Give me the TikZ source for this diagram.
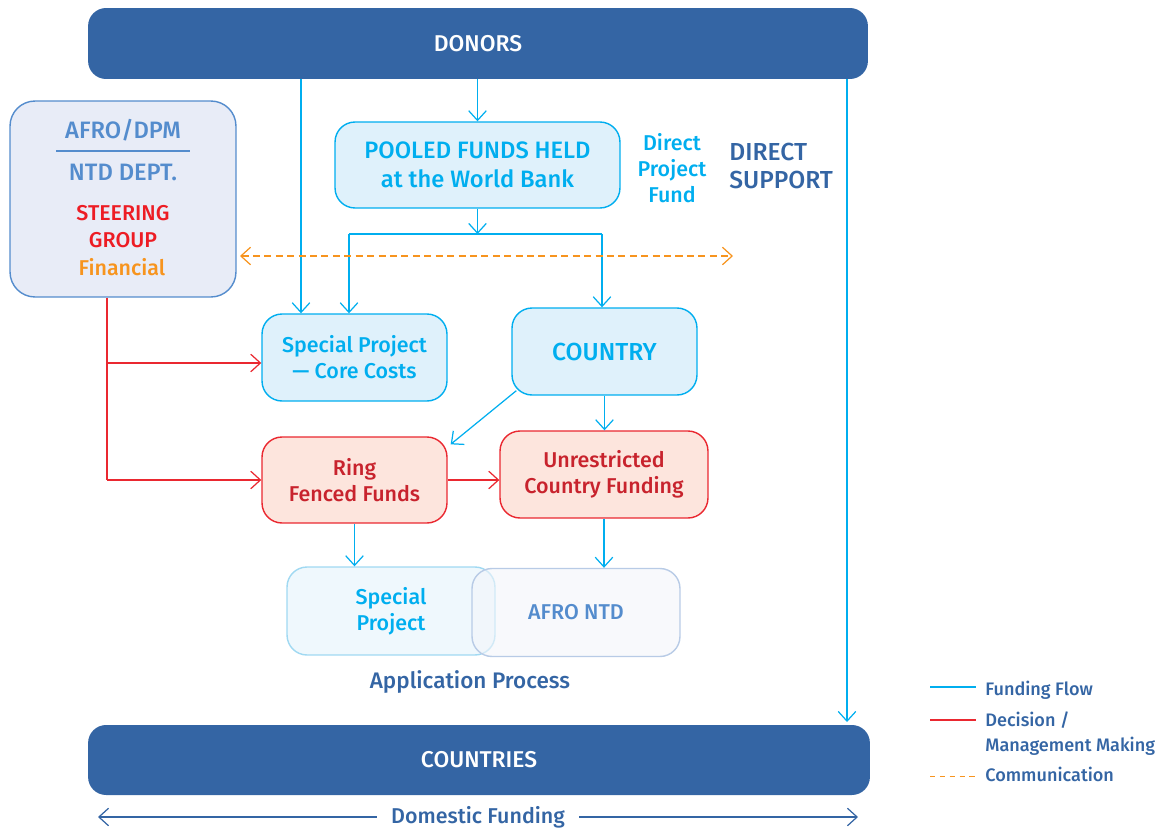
\documentclass[tikz,border=0pt]{standalone}
\usepackage{fontspec}
\setmainfont{Fira Sans}[UprightFont=* Medium]
\usetikzlibrary{arrows.meta}

\definecolor{barblue}{RGB}{52,101,164}
\definecolor{midblue}{RGB}{84,140,205}
\definecolor{flowcyan}{RGB}{0,174,239}
\definecolor{lightcyan}{RGB}{223,241,251}
\definecolor{lavender}{RGB}{232,236,247}
\definecolor{decred}{RGB}{234,40,48}
\definecolor{steerred}{RGB}{237,28,36}
\definecolor{darkred}{RGB}{200,35,45}
\definecolor{salmon}{RGB}{253,229,221}
\definecolor{commorange}{RGB}{247,148,30}
\definecolor{paleblue}{RGB}{239,248,253}
\definecolor{palecyan}{RGB}{160,217,242}
\definecolor{palegrey}{RGB}{243,245,250}
\definecolor{greyblue}{RGB}{184,203,230}

\tikzset{
  txt/.style={inner sep=0pt},
  bigfont/.style={font=\fontsize{13.5}{16.6}\selectfont},
  midfont/.style={font=\fontsize{12.2}{14.8}\selectfont},
  smallfont/.style={font=\fontsize{10.3}{14.2}\selectfont},
  bar/.style={fill=barblue, rounded corners=0.36cm, inner sep=0pt, text=white, font=\fontsize{13}{15}\selectfont},
  flowbox/.style={draw=flowcyan, fill=lightcyan, line width=0.8pt, rounded corners=0.4cm, inner sep=0pt, align=center, text=flowcyan},
  redbox/.style={draw=decred, fill=salmon, line width=0.8pt, rounded corners=0.4cm, inner sep=0pt, align=center, text=darkred},
  appbox/.style={line width=0.8pt, rounded corners=0.4cm, inner sep=0pt, align=center, minimum width=4.16cm, minimum height=1.76cm},
  flow/.style={draw=flowcyan, line width=0.7pt, -{Straight Barb[length=5.5pt,width=10pt]}},
  flowline/.style={draw=flowcyan, line width=0.7pt},
  decision/.style={draw=decred, line width=0.7pt, -{Straight Barb[length=5.5pt,width=10pt]}},
  decline/.style={draw=decred, line width=0.7pt},
  comm/.style={draw=commorange, line width=0.7pt, dash pattern=on 4pt off 2.5pt, {Straight Barb[length=5.5pt,width=10pt]}-{Straight Barb[length=5.5pt,width=10pt]}},
  commline/.style={draw=commorange, line width=0.7pt, dash pattern=on 3pt off 2.6pt},
  domflow/.style={draw=barblue, line width=0.7pt, -{Straight Barb[length=5.5pt,width=10pt]}},
}

\begin{document}
\begin{tikzpicture}[x=0.02cm, y=-0.02cm]
\useasboundingbox (0,0) rectangle (1161,829);
\node[bar, minimum width=15.6cm, minimum height=1.42cm] (donors) at (478,43.5) {DONORS};
\node[bar, minimum width=15.64cm, minimum height=1.4cm] (countries) at (479,760) {COUNTRIES};
\node[draw=midblue, fill=lavender, line width=0.8pt, rounded corners=0.5cm, minimum width=4.52cm, minimum height=3.92cm] (afro) at (123,199) {};
\node[txt, bigfont, anchor=base, text=midblue] (afrodpm) at (123,138) {AFRO/DPM};
\draw[midblue, line width=0.6pt] (56,151) -- (190,151);
\node[txt, bigfont, anchor=base, text=midblue] (ntd) at (123,180) {NTD DEPT.};
\node[txt, midfont, anchor=base, text=steerred] (steering) at (123,220) {STEERING};
\node[txt, midfont, anchor=base, text=steerred] (group) at (123,247) {GROUP};
\node[txt, midfont, anchor=base, text=commorange] (financial) at (122,275) {Financial};
\node[flowbox, bigfont, minimum width=5.7cm, minimum height=1.72cm] (pooled) at (477.5,165) {POOLED FUNDS HELD\\at the World Bank};
\node[txt, midfont, align=center, text=flowcyan] (directfund) at (672,168.5) {Direct\\Project\\Fund};
\node[txt, font=\fontsize{14}{16}\selectfont, align=left, anchor=west, text=barblue] (direct) at (729,166) {DIRECT\\SUPPORT};
\node[flowbox, midfont, minimum width=3.7cm, minimum height=1.74cm] (speccore) at (354.5,357.5) {Special Project\\--- Core Costs};
\node[flowbox, font=\fontsize{14}{16}\selectfont, minimum width=3.7cm, minimum height=1.74cm] (country) at (604.5,351.5) {COUNTRY};
\node[redbox, midfont, minimum width=3.7cm, minimum height=1.72cm] (ring) at (354.5,480) {Ring\\Fenced Funds};
\node[redbox, midfont, minimum width=4.16cm, minimum height=1.74cm] (unres) at (604,474.5) {Unrestricted\\Country Funding};
\node[appbox, draw=palecyan, fill=paleblue, midfont, text=flowcyan] (specapp) at (391,611) {Special\\Project};
\node[appbox, draw=greyblue, fill=palegrey, fill opacity=0.6, text opacity=1, midfont, text=midblue] (afrontd) at (576,612.5) {AFRO NTD};
\node[txt, font=\fontsize{12.8}{15}\selectfont, anchor=base, text=barblue] (appproc) at (470,688) {Application Process};
\coordinate (dcore) at (301,0);
\coordinate (ddirect) at (847,0);
\coordinate (splitl) at (349,234);
\coordinate (splitr) at (602,234);
\coordinate (commL) at (240,256);
\coordinate (commR) at (733,256);
\coordinate (redtop) at (107,0);
\coordinate (redmid) at (107,363);
\draw[flow] (donors.south -| pooled.north) -- (pooled.north);
\draw[flow] (donors.south -| dcore) -- (speccore.north -| dcore);
\draw[flow] (donors.south -| ddirect) -- ([yshift=1.5pt]countries.north -| ddirect);
\draw[flow] (pooled.south) -- (pooled.south |- splitl);
\draw[flowline] (splitl) -- (splitr);
\draw[flow] (splitl) -- (splitl |- speccore.north);
\draw[flow] (splitr) -- (splitr |- country.north);
\draw[comm] (commL) -- (commR);
\draw[decline] (afro.south -| redtop) -- (ring.west -| redtop);
\draw[decision] (redmid) -- (redmid -| speccore.west);
\draw[decision] (ring.west -| redtop) -- (ring.west);
\draw[decision] (ring.east) -- (ring.east -| unres.west);
\draw[flow] ([shift={(5,-5)}]country.south west) -- ([shift={(3,8)}]ring.north east);
\draw[flow] (country.south) -- (country.south |- unres.north);
\draw[flow] (ring.south) -- (ring.south |- specapp.north);
\draw[flow] (unres.south) -- (unres.south |- afrontd.north);
\node[txt, midfont, anchor=base, inner xsep=8pt, text=barblue] (domestic) at (478,823) {Domestic Funding};
\coordinate (domL) at (98,817);
\coordinate (domR) at (858,817);
\draw[domflow] (domestic.west |- domL) -- (domL);
\draw[domflow] (domestic.east |- domR) -- (domR);
\node[txt, smallfont, anchor=base west, text=barblue] (legfund) at (985,695) {Funding Flow};
\node[txt, smallfont, anchor=base west, text=barblue] (legdec) at (985,726.7) {Decision /};
\node[txt, smallfont, anchor=base west, text=barblue] (legmgmt) at (985,751.7) {Management Making};
\node[txt, smallfont, anchor=base west, text=barblue] (legcomm) at (985,781.7) {Communication};
\coordinate (legflow) at (930,687);
\coordinate (legred) at (930,720);
\coordinate (legorange) at (930,776.7);
\draw[flowline] (legflow) -- (legflow -| 976,0);
\draw[decline] (legred) -- (legred -| 976,0);
\draw[commline] (legorange) -- (legorange -| 976,0);
\end{tikzpicture}
\end{document}
